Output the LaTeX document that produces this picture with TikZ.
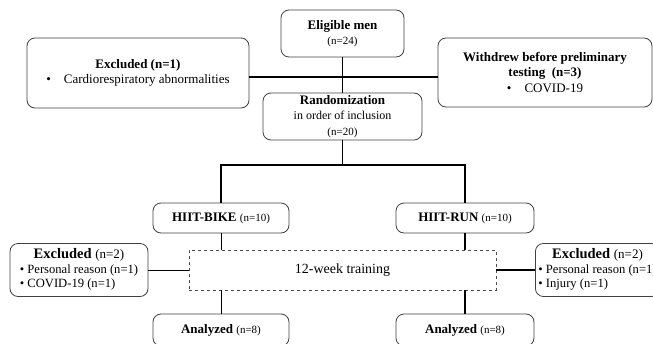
\documentclass[tikz,border=0pt]{standalone}
\usepackage{fontspec}
\setmainfont{Liberation Serif}
\newcommand{\smallfnt}{\fontsize{11}{13}\selectfont}
\newcommand{\listfnt}{\fontsize{12.6}{14}\selectfont}
\newcommand{\bigfnt}{\fontsize{14.5}{17}\selectfont}
\begin{document}
\begin{tikzpicture}[
        x=1pt, y=-1pt,
        every node/.style={font=\fontsize{13}{15.5}\selectfont},
        box/.style={draw=black!75, line width=0.8pt, rounded corners=8pt, align=center, inner sep=2pt},
        trainbox/.style={draw=black!70, line width=0.7pt, dashed, align=center},
        conn/.style={draw, line width=1.6pt},
        thinconn/.style={draw, line width=1pt},
    ]
    \useasboundingbox (0,0) rectangle (653,343);
    \node[box, minimum width=123pt, minimum height=47pt](elig) at (342.5,33.5){\textbf{Eligible men}\\{\smallfnt (n=24)}};
    \node[box, minimum width=222pt, minimum height=70pt](excl) at (138,73){\textbf{Excluded (n=1)}\\\textbullet\quad Cardiorespiratory abnormalities};
    \node[box, minimum width=214pt, minimum height=69pt](withd) at (545,72.5){\textbf{Withdrew before preliminary}\\\textbf{testing\ \ (n=3)}\\\textbullet\quad COVID-19};
    \node[box, minimum width=159pt, minimum height=47pt](rand) at (342.5,116.5){\textbf{Randomization}\\{\fontsize{12}{13.5}\selectfont in order of inclusion}\\{\smallfnt (n=20)}};
    \coordinate (mid) at (342.5,77);
    \coordinate (split) at (342.5,165);
    \node[box, minimum width=136pt, minimum height=30pt](bike) at (221,218){\textbf{HIIT-BIKE} {\smallfnt (n=10)}};
    \node[box, minimum width=138pt, minimum height=30pt](run) at (465,218){\textbf{HIIT-RUN} {\smallfnt (n=10)}};
    \node[trainbox, minimum width=307pt, minimum height=40pt](train) at (342.5,270){\fontsize{14}{16}\selectfont 12-week training};
    \node[box, minimum width=138pt, minimum height=53pt, inner xsep=3pt](exl) at (79,270){\begin{tabular}{@{}l@{}}\multicolumn{1}{@{}c@{}}{\bigfnt\textbf{Excluded} {\fontsize{13}{15}\selectfont(n=2)}}\\[-1pt]
        {\listfnt\textbullet\ Personal reason (n=1)}\\[-1pt]
        {\listfnt\textbullet\ COVID-19 (n=1)}\end{tabular}};
    \node[box, minimum height=53pt, inner xsep=3pt, anchor=west](exr) at (535,270){\begin{tabular}{@{}l@{}}\multicolumn{1}{@{}c@{}}{\bigfnt\textbf{Excluded} {\fontsize{13}{15}\selectfont(n=2)}}\\[-1pt]
        {\listfnt\textbullet\ Personal reason (n=1)}\\[-1pt]
        {\listfnt\textbullet\ Injury (n=1)}\end{tabular}};
    \node[box, minimum width=136pt, minimum height=32pt](anb) at (221,330){\textbf{Analyzed} {\smallfnt (n=8)}};
    \node[box, minimum width=138pt, minimum height=32pt](anr) at (465,330){\textbf{Analyzed} {\smallfnt (n=8)}};
    \draw[conn] (elig) -- (rand);
    \draw[conn] (excl.east |- mid) -- (withd.west |- mid);
    \draw[conn] (rand) -- (split);
    \draw[conn] (bike.north) |- (split) -| (run.north);
    \draw[thinconn] (bike) -- (bike.south |- train.north);
    \draw[thinconn] (anb.north |- train.south) -- (anb);
    \draw[thinconn] (exl) -- (train.west |- exl.east);
    \draw[conn] (run) -- (run.south |- train.north);
    \draw[conn] (anr.north |- train.south) -- (anr);
    \draw[conn] (train.east |- exr.west) -- (exr);
\end{tikzpicture}
\end{document}
